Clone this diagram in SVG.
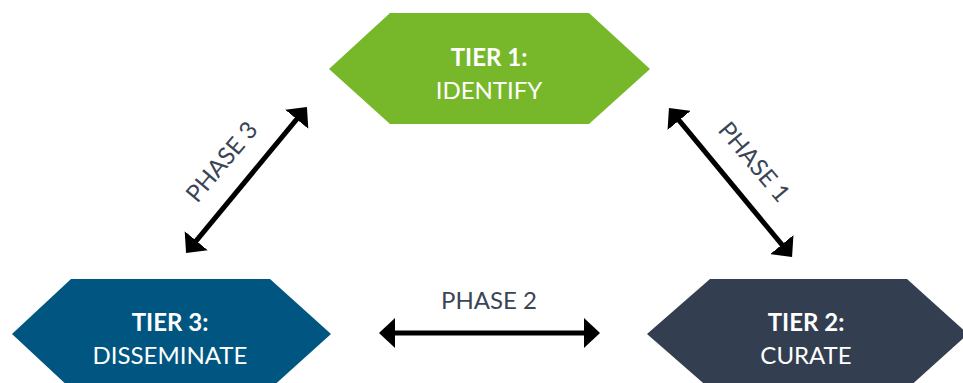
<svg xmlns="http://www.w3.org/2000/svg" width="963" height="383" viewBox="0 0 963 383">
  <style>
    .tier-title { font-family: Lato, "Liberation Sans", sans-serif; font-size: 24px; font-weight: 700; fill: #ffffff; text-anchor: middle; }
    .tier-name { font-family: Lato, "Liberation Sans", sans-serif; font-size: 24px; font-weight: 400; fill: #ffffff; text-anchor: middle; }
    .phase { font-family: Lato, "Liberation Sans", sans-serif; font-size: 24px; font-weight: 400; fill: #3a4556; text-anchor: middle; }
    .link { stroke: #000000; stroke-width: 5; fill: none; marker-start: url(#head); marker-end: url(#head); }
  </style>
  <defs>
    <marker id="head" viewBox="0 0 16 30" refX="4" refY="15" markerWidth="16" markerHeight="30" markerUnits="userSpaceOnUse" orient="auto-start-reverse">
      <path d="M0,0 L16,15 L0,30 Z" fill="#000000"/>
    </marker>
  </defs>
  <rect width="963" height="383" fill="#ffffff"/>

  <g id="tier1">
    <polygon points="390,13 589,13 650,69 589,124 390,124 329,69" fill="#77b82a"/>
    <text class="tier-title" x="489" y="66">TIER 1:</text>
    <text class="tier-name" x="489" y="99">IDENTIFY</text>
  </g>

  <g id="tier2">
    <polygon points="710,279 907,279 968,334 907,389 710,389 647,334" fill="#333f50"/>
    <text class="tier-title" x="806" y="331">TIER 2:</text>
    <text class="tier-name" x="806" y="364">CURATE</text>
  </g>

  <g id="tier3">
    <polygon points="71,279 270,279 331,334 270,389 71,389 12,334" fill="#005680"/>
    <text class="tier-title" x="170" y="331">TIER 3:</text>
    <text class="tier-name" x="170" y="364">DISSEMINATE</text>
  </g>

  <g id="connectors">
    <line class="link" x1="676.6" y1="117.3" x2="784.4" y2="247.7"/>
    <line class="link" x1="391" y1="333" x2="588" y2="333"/>
    <line class="link" x1="193.7" y1="243.8" x2="299.3" y2="116.2"/>
    <text class="phase" transform="translate(754,162) rotate(50)" x="0" y="8">PHASE 1</text>
    <text class="phase" x="489" y="309">PHASE 2</text>
    <text class="phase" transform="translate(222,162) rotate(-50)" x="0" y="8">PHASE 3</text>
  </g>
</svg>
